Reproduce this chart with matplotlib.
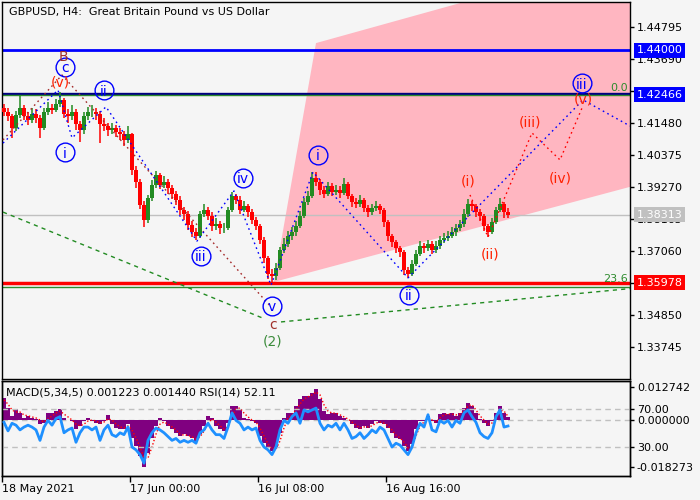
import matplotlib
matplotlib.use('Agg')
import matplotlib.pyplot as plt
import matplotlib.transforms as mtransforms
from matplotlib.patches import Polygon
import numpy as np

plt.rcParams['font.family'] = ['DejaVu Sans']

# ---------------- data ----------------
opens = [1.4200, 1.4186, 1.4172, 1.4131, 1.4176, 1.4200, 1.4172, 1.4159, 1.4179, 1.4166,
         1.4131, 1.4186, 1.4200, 1.4193, 1.4214, 1.4228, 1.4179, 1.4172, 1.4186, 1.4145,
         1.4124, 1.4172, 1.4186, 1.4186, 1.4179, 1.4145, 1.4138, 1.4124, 1.4131, 1.4117,
         1.4110, 1.4090, 1.4110, 1.3986, 1.3945, 1.3865, 1.3814, 1.3890, 1.3935, 1.3969,
         1.3935, 1.3945, 1.3924, 1.3904, 1.3883, 1.3848, 1.3834, 1.3797, 1.3772, 1.3759,
         1.3834, 1.3848, 1.3828, 1.3793, 1.3800, 1.3786, 1.3786, 1.3848, 1.3897, 1.3883,
         1.3848, 1.3862, 1.3841, 1.3814, 1.3793, 1.3745, 1.3683, 1.3627, 1.3620, 1.3648,
         1.3710, 1.3731, 1.3759, 1.3772, 1.3793, 1.3828, 1.3876, 1.3897, 1.3959, 1.3945,
         1.3917, 1.3904, 1.3931, 1.3910, 1.3917, 1.3907, 1.3938, 1.3897, 1.3876, 1.3869,
         1.3883, 1.3855, 1.3841, 1.3855, 1.3862, 1.3848, 1.3807, 1.3759, 1.3738, 1.3717,
         1.3704, 1.3641, 1.3627, 1.3662, 1.3697, 1.3724, 1.3717, 1.3731, 1.3710, 1.3724,
         1.3745, 1.3752, 1.3759, 1.3772, 1.3786, 1.3800, 1.3834, 1.3869, 1.3862, 1.3841,
         1.3828, 1.3793, 1.3772, 1.3807, 1.3848, 1.3869, 1.3841]

closes = [1.4186, 1.4172, 1.4131, 1.4176, 1.4200, 1.4172, 1.4159, 1.4179, 1.4166, 1.4131,
          1.4186, 1.4200, 1.4193, 1.4214, 1.4228, 1.4179, 1.4172, 1.4186, 1.4145, 1.4124,
          1.4172, 1.4186, 1.4186, 1.4179, 1.4145, 1.4138, 1.4124, 1.4131, 1.4117, 1.4110,
          1.4090, 1.4110, 1.3986, 1.3945, 1.3865, 1.3814, 1.3890, 1.3935, 1.3969, 1.3935,
          1.3945, 1.3924, 1.3904, 1.3883, 1.3848, 1.3834, 1.3797, 1.3772, 1.3759, 1.3834,
          1.3848, 1.3828, 1.3793, 1.3800, 1.3786, 1.3786, 1.3848, 1.3897, 1.3883, 1.3848,
          1.3862, 1.3841, 1.3814, 1.3793, 1.3745, 1.3683, 1.3627, 1.3620, 1.3648, 1.3710,
          1.3731, 1.3759, 1.3772, 1.3793, 1.3828, 1.3876, 1.3897, 1.3959, 1.3945, 1.3917,
          1.3904, 1.3931, 1.3910, 1.3917, 1.3907, 1.3938, 1.3897, 1.3876, 1.3869, 1.3883,
          1.3855, 1.3841, 1.3855, 1.3862, 1.3848, 1.3807, 1.3759, 1.3738, 1.3717, 1.3704,
          1.3641, 1.3627, 1.3662, 1.3697, 1.3724, 1.3717, 1.3731, 1.3710, 1.3724, 1.3745,
          1.3752, 1.3759, 1.3772, 1.3786, 1.3800, 1.3834, 1.3869, 1.3862, 1.3841, 1.3828,
          1.3793, 1.3772, 1.3807, 1.3848, 1.3869, 1.3841, 1.3831]

highs = [1.4215, 1.4200, 1.4180, 1.4190, 1.4245, 1.4210, 1.4185, 1.4200, 1.4195, 1.4175,
         1.4200, 1.4220, 1.4215, 1.4230, 1.4255, 1.4235, 1.4195, 1.4210, 1.4195, 1.4155,
         1.4185, 1.4205, 1.4210, 1.4200, 1.4190, 1.4165, 1.4150, 1.4150, 1.4140, 1.4130,
         1.4120, 1.4138, 1.4115, 1.4000, 1.3955, 1.3880, 1.3900, 1.3950, 1.3983, 1.3975,
         1.3965, 1.3955, 1.3935, 1.3915, 1.3895, 1.3860, 1.3845, 1.3810, 1.3785, 1.3845,
         1.3870, 1.3860, 1.3840, 1.3820, 1.3810, 1.3805, 1.3860, 1.3910, 1.3905, 1.3895,
         1.3880, 1.3870, 1.3850, 1.3825, 1.3800, 1.3755, 1.3690, 1.3645, 1.3665, 1.3720,
         1.3750, 1.3775, 1.3790, 1.3810, 1.3845, 1.3890, 1.3915, 1.3979, 1.3979, 1.3955,
         1.3930, 1.3945, 1.3940, 1.3935, 1.3930, 1.3960, 1.3945, 1.3905, 1.3890, 1.3900,
         1.3890, 1.3865, 1.3870, 1.3880, 1.3870, 1.3855, 1.3815, 1.3765, 1.3745, 1.3725,
         1.3710, 1.3650, 1.3675, 1.3710, 1.3740, 1.3735, 1.3745, 1.3740, 1.3740, 1.3760,
         1.3770, 1.3775, 1.3790, 1.3800, 1.3815, 1.3850, 1.3885, 1.3880, 1.3870, 1.3850,
         1.3835, 1.3800, 1.3820, 1.3860, 1.3890, 1.3875, 1.3855]

lows = [1.4172, 1.4155, 1.4097, 1.4120, 1.4165, 1.4160, 1.4140, 1.4150, 1.4150, 1.4097,
        1.4125, 1.4175, 1.4180, 1.4185, 1.4205, 1.4165, 1.4150, 1.4160, 1.4125, 1.4083,
        1.4110, 1.4160, 1.4170, 1.4160, 1.4079, 1.4120, 1.4105, 1.4110, 1.4100, 1.4090,
        1.4070, 1.4080, 1.3970, 1.3925, 1.3850, 1.3790, 1.3805, 1.3880, 1.3925, 1.3920,
        1.3925, 1.3905, 1.3885, 1.3865, 1.3830, 1.3815, 1.3780, 1.3755, 1.3745, 1.3750,
        1.3825, 1.3815, 1.3775, 1.3780, 1.3765, 1.3770, 1.3780, 1.3840, 1.3870, 1.3835,
        1.3840, 1.3825, 1.3800, 1.3780, 1.3730, 1.3665, 1.3610, 1.3589, 1.3605, 1.3640,
        1.3700, 1.3720, 1.3745, 1.3760, 1.3785, 1.3820, 1.3865, 1.3890, 1.3930, 1.3900,
        1.3890, 1.3895, 1.3895, 1.3900, 1.3890, 1.3900, 1.3885, 1.3860, 1.3855, 1.3860,
        1.3840, 1.3825, 1.3830, 1.3845, 1.3835, 1.3790, 1.3740, 1.3720, 1.3700, 1.3685,
        1.3625, 1.3614, 1.3620, 1.3655, 1.3690, 1.3700, 1.3705, 1.3695, 1.3700, 1.3715,
        1.3735, 1.3740, 1.3750, 1.3760, 1.3775, 1.3790, 1.3825, 1.3845, 1.3825, 1.3810,
        1.3775, 1.3755, 1.3765, 1.3800, 1.3840, 1.3820, 1.3820]

macd_hist = [0.0086, 0.0047, 0.0016, 0.0043, 0.0027, 0.0008, 0.0016, 0.0008, 0.0004, -0.0016,
             -0.0012, 0.0027, 0.0027, 0.0035, 0.0043, 0.0008, 0.0000, -0.0004, -0.0035, -0.0023,
             -0.0004, 0.0008, -0.0004, -0.0012, -0.0016, -0.0004, 0.0020, -0.0016, -0.0031, -0.0035,
             -0.0035, -0.0016, -0.0070, -0.0101, -0.0140, -0.0183, -0.0129, -0.0070, -0.0023, 0.0008,
             -0.0004, -0.0023, -0.0035, -0.0051, -0.0062, -0.0055, -0.0062, -0.0070, -0.0082, -0.0055,
             -0.0023, 0.0016, 0.0008, -0.0023, -0.0035, -0.0043, -0.0012, 0.0055, 0.0055, 0.0043,
             0.0008, 0.0004, -0.0004, -0.0012, -0.0062, -0.0090, -0.0109, -0.0121, -0.0109, -0.0051,
             0.0008, 0.0027, 0.0027, 0.0055, 0.0082, 0.0094, 0.0094, 0.0105, 0.0121, 0.0082,
             0.0035, 0.0023, 0.0027, 0.0027, 0.0016, 0.0008, 0.0000, -0.0016, -0.0031, -0.0035,
             -0.0023, -0.0031, -0.0016, -0.0004, -0.0012, -0.0016, -0.0031, -0.0051, -0.0070, -0.0074,
             -0.0101, -0.0121, -0.0094, -0.0035, -0.0004, -0.0004, 0.0016, -0.0004, -0.0012, 0.0023,
             0.0027, 0.0023, 0.0027, 0.0016, 0.0027, 0.0047, 0.0066, 0.0055, 0.0027, 0.0004,
             -0.0012, -0.0023, -0.0004, 0.0027, 0.0055, 0.0027, 0.001223]

macd_signal = [0.0078, 0.0062, 0.0039, 0.0031, 0.0031, 0.0020, 0.0016, 0.0012, 0.0008, 0.0000,
               -0.0008, 0.0004, 0.0016, 0.0027, 0.0035, 0.0023, 0.0012, 0.0000, -0.0016, -0.0023,
               -0.0016, -0.0004, 0.0000, -0.0004, -0.0012, -0.0008, 0.0004, 0.0000, -0.0016, -0.0027,
               -0.0031, -0.0023, -0.0039, -0.0070, -0.0105, -0.0148, -0.0148, -0.0105, -0.0055, -0.0016,
               -0.0008, -0.0016, -0.0027, -0.0039, -0.0055, -0.0059, -0.0059, -0.0066, -0.0074, -0.0066,
               -0.0043, -0.0012, 0.0004, -0.0008, -0.0023, -0.0035, -0.0027, 0.0016, 0.0043, 0.0047,
               0.0027, 0.0012, 0.0000, -0.0008, -0.0031, -0.0062, -0.0094, -0.0113, -0.0113, -0.0082,
               -0.0031, 0.0008, 0.0020, 0.0039, 0.0062, 0.0082, 0.0090, 0.0098, 0.0109, 0.0098,
               0.0059, 0.0035, 0.0027, 0.0027, 0.0020, 0.0012, 0.0004, -0.0008, -0.0020, -0.0031,
               -0.0027, -0.0027, -0.0023, -0.0012, -0.0008, -0.0012, -0.0023, -0.0039, -0.0059, -0.0070,
               -0.0086, -0.0109, -0.0105, -0.0062, -0.0023, -0.0008, 0.0004, 0.0000, -0.0008, 0.0008,
               0.0020, 0.0023, 0.0023, 0.0020, 0.0023, 0.0035, 0.0055, 0.0059, 0.0039, 0.0016,
               0.0000, -0.0016, -0.0012, 0.0012, 0.0039, 0.0035, 0.00144]

rsi = [56, 47, 55, 53, 48, 51, 53, 51, 48, 37,
       51, 58, 53, 60, 62, 45, 48, 50, 35, 45,
       51, 51, 48, 51, 37, 48, 53, 43, 41, 45,
       43, 51, 30, 27, 22, 13, 37, 45, 50, 48,
       45, 41, 37, 39, 35, 37, 35, 37, 34, 45,
       48, 55, 48, 43, 43, 39, 51, 66, 58, 55,
       48, 51, 48, 50, 37, 30, 27, 22, 30, 48,
       58, 55, 62, 66, 55, 69, 67, 69, 71, 55,
       48, 53, 51, 55, 48, 55, 48, 39, 41, 45,
       39, 43, 48, 45, 51, 48, 39, 30, 34, 32,
       27, 22, 30, 45, 55, 51, 64, 48, 46, 58,
       55, 58, 51, 58, 55, 66, 69, 62, 56, 45,
       41, 39, 45, 62, 69, 51, 52.11]

date_tick_pos = [-0.5, 31.5, 63.5, 95.5]
date_tick_labels = ["18 May 2021", "17 Jun 00:00", "16 Jul 08:00", "16 Aug 16:00"]

price_ticks = [1.44795, 1.43690, 1.42585, 1.41480, 1.40375, 1.39270, 1.38165,
               1.37060, 1.35955, 1.34850, 1.33745]
# tick labels that the price boxes hide completely are left blank
hidden_ticks = [1.42585, 1.35955]

level_blue = 1.44000
level_top = 1.42466
level_red = 1.35978
last_price = 1.38313
fib_236 = 1.35815

# Elliott wave paths (bar index, price)
blue_wave_x = [-0.25, 13.5, 17, 25.5, 48.25, 57.5, 66.75, 77.25, 101, 144.75, 156.5]
blue_wave_y = [1.4079, 1.4262, 1.4097, 1.4204, 1.3741, 1.3914, 1.3589, 1.3979, 1.3614, 1.4228, 1.4138]
brown_wave_x = [-0.25, 14.5, 66.75]
brown_wave_y = [1.4090, 1.4314, 1.3514]
red_wave_x = [116.5, 121, 132, 139, 144.5]
red_wave_y = [1.3900, 1.3755, 1.4114, 1.4021, 1.4200]
green_a_x = [-0.25, 65.25]
green_a_y = [1.3841, 1.3472]
green_b_x = [69.25, 156.5]
green_b_y = [1.3462, 1.3577]
channel_x = [67.5, 78, 156.5, 156.5]
channel_y = [1.3600, 1.4424, 1.4725, 1.3928]

# labels: x, price, text, color, circled
wave_labels = [
    (14.75, 1.4381, "B", "#A0302A", False),
    (15.25, 1.4342, "c", "#0000FF", True),
    (14.0, 1.4293, "(v)", "#FF2000", False),
    (25.0, 1.4262, "ii", "#0000FF", True),
    (15.25, 1.4048, "i", "#0000FF", True),
    (49.25, 1.3690, "iii", "#0000FF", True),
    (59.75, 1.3959, "iv", "#0000FF", True),
    (67.0, 1.3517, "v", "#0000FF", True),
    (67.25, 1.3458, "c", "#A0302A", False),
    (67.25, 1.3400, "(2)", "#3C8C3C", False),
    (78.5, 1.4038, "i", "#0000FF", True),
    (101.25, 1.3555, "ii", "#0000FF", True),
    (116.0, 1.3952, "(i)", "#FF2000", False),
    (121.5, 1.3700, "(ii)", "#FF2000", False),
    (131.5, 1.4155, "(iii)", "#FF2000", False),
    (139.0, 1.3962, "(iv)", "#FF2000", False),
    (144.5, 1.4286, "iii", "#0000FF", True),
    (144.75, 1.4234, "(v)", "#FF2000", False),
]

# ---------------- figure ----------------
BG = '#F5F5F5'
UP = '#228B22'
DN = '#FF0000'

fig = plt.figure(figsize=(7, 5), dpi=100, facecolor=BG)
ax = fig.add_axes([2/700, 121/500, 628/700, 377/500], facecolor=BG)
axm = fig.add_axes([2/700, 24/500, 628/700, 95/500], facecolor=BG)
axr = axm.twinx()

n = len(closes)
xs = np.arange(n)
o = np.array(opens); c = np.array(closes)
h = np.array(highs); l = np.array(lows)
cols = [UP if cc >= oo else DN for oo, cc in zip(o, c)]

ax.set_xlim(-0.5, 156.5)
ax.set_ylim(1.32651, 1.45658)

# channel
ax.add_patch(Polygon(list(zip(channel_x, channel_y)), closed=True,
                     facecolor='#FFB6C1', edgecolor='none', zorder=0.5))

# horizontal levels
ax.axhline(last_price, color='#C0C0C0', lw=1, zorder=1)
ax.axhline(level_blue, color='#0000FF', lw=2, zorder=2)
ax.axhline(level_top + 0.00014, color='#000080', lw=1.7, zorder=2)
ax.axhline(level_top - 0.00026, color='#2E8B2E', lw=1, zorder=2)
ax.axhline(level_red, color='#FF0000', lw=2.5, zorder=2)
ax.axhline(fib_236, color='#2E8B2E', lw=1, zorder=2)

# candles
ax.vlines(xs, l, h, colors=cols, lw=1.1, zorder=3)
body_lo = np.minimum(o, c)
body_h = np.maximum(np.abs(c - o), 0.00008)
ax.bar(xs, body_h, bottom=body_lo, width=0.8, color=cols, edgecolor='none', zorder=3)

# wave lines
ax.plot(green_a_x, green_a_y, color='#228B22', lw=1, ls=(0, (3, 3)), zorder=4)
ax.plot(green_b_x, green_b_y, color='#228B22', lw=1, ls=(0, (3, 3)), zorder=4)
ax.plot(brown_wave_x, brown_wave_y, color='#A52A2A', lw=1, ls=(0, (1.2, 2.5)), zorder=4)
ax.plot(blue_wave_x, blue_wave_y, color='#0000FF', lw=1, ls=(0, (1.2, 2.5)), zorder=4)
ax.plot(red_wave_x, red_wave_y, color='#FF0000', lw=1, ls=(0, (1.2, 2.5)), zorder=4)

# wave labels
for (lx, ly, txt, col, circ) in wave_labels:
    if circ:
        ax.plot([lx], [ly], 'o', ms=13.5, mfc='none', mec='#0000FF', mew=1, zorder=6)
    ax.text(lx, ly, txt, color=col, fontsize=10, ha='center', va='center_baseline', zorder=7)

# fib labels
btrans = mtransforms.blended_transform_factory(ax.transAxes, ax.transData)
ax.text(0.997, level_top + 0.0006, "0.0", color='#2E8B2E', fontsize=8,
        ha='right', va='bottom', transform=btrans, zorder=7)
ax.text(0.997, 1.3594, "23.6", color='#2E8B2E', fontsize=8,
        ha='right', va='bottom', transform=btrans, zorder=7)

# title
ax.text(7/628, 1 - 10/377, "GBPUSD, H4:  Great Britain Pound vs US Dollar", transform=ax.transAxes,
        fontsize=8, ha='left', va='center', color='black', zorder=8)

# y axis
ax.set_xticks([])
ax.yaxis.tick_right()
ax.set_yticks(price_ticks)
ax.set_yticklabels(["" if v in hidden_ticks else f"{v:.5f}" for v in price_ticks])
ax.tick_params(axis='y', direction='out', length=3, width=1, pad=2, labelsize=8, colors='black')

for val, bg in [(level_blue, '#0000FF'), (level_top, '#0000FF'), (last_price, '#C0C0C0'), (level_red, '#FF0000')]:
    ax.text(1.0105, val, f"{val:.5f}", transform=btrans, fontsize=8, color='white',
            ha='left', va='center', clip_on=False, zorder=10,
            bbox=dict(boxstyle='square,pad=0.22', facecolor=bg, edgecolor='none'))

for sp in ax.spines.values():
    sp.set_color('black'); sp.set_linewidth(1)

# ---------------- indicator panel ----------------
axm.set_xlim(-0.5, 156.5)
axm.set_ylim(-0.02184, 0.01521)
axr.set_ylim(-0.5, 99.5)
axm.bar(xs, macd_hist, width=1.0, color='#800080', edgecolor='none', zorder=2)
axm.plot(xs, macd_signal, color='#FF0000', lw=1, ls=(0, (1, 1.5)), zorder=3)
axm.axhline(0, color='#C0C0C0', lw=1, ls=(0, (4, 3)), zorder=1)
axr.axhline(70, color='#C0C0C0', lw=1, ls=(0, (4, 3)), zorder=1)
axr.axhline(30, color='#C0C0C0', lw=1, ls=(0, (4, 3)), zorder=1)
axr.plot(xs, rsi, color='#1E90FF', lw=2, zorder=4)

axm.yaxis.tick_right()
axm.set_yticks([0.012742, 0.0, -0.018273])
axm.set_yticklabels(["0.012742", "0.000000", "-0.018273"])
axr.set_yticks([70, 30])
axr.set_yticklabels(["70.00", "30.00"])
for a in (axm, axr):
    a.tick_params(axis='y', direction='out', length=3, width=1, pad=2, labelsize=8, colors='black')
axm.set_xticks(date_tick_pos)
axm.set_xticklabels(date_tick_labels, ha='left')
axm.tick_params(axis='x', direction='out', length=4, width=1, pad=2, labelsize=8, colors='black')
for sp in list(axm.spines.values()) + list(axr.spines.values()):
    sp.set_color('black'); sp.set_linewidth(1)

axm.text(4/628, 0.884, "MACD(5,34,5) 0.001223 0.001440 RSI(14) 52.11", transform=axm.transAxes,
         fontsize=8, ha='left', va='center', color='black', zorder=8)

fig.savefig('out.png', dpi=100, facecolor=BG)
